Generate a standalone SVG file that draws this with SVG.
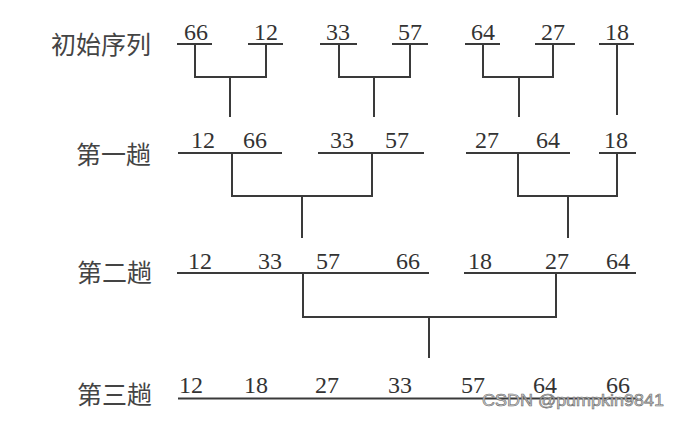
<svg xmlns="http://www.w3.org/2000/svg" width="682" height="421" viewBox="0 0 682 421">
<style>
.n{font-family:"Liberation Serif","Times New Roman",serif;font-size:24px;fill:#333;text-anchor:middle}
.lb{font-family:"Noto Sans CJK SC","Noto Sans",sans-serif;font-size:25px;fill:#444;text-anchor:end}
.u{stroke:#3a3a3a;stroke-width:2;fill:none}
.c{stroke:#3a3a3a;stroke-width:2;fill:none}
.wm{font-family:"Liberation Sans",Arial,sans-serif;font-size:17px;fill:#d0d0d0;stroke:#6a6a6a;stroke-width:0.6}
</style>
<rect width="682" height="421" fill="#fff"/>
<g id="labels">
<text id="label0" class="lb" x="151" y="54">初始序列</text>
<text id="label1" class="lb" x="151" y="164">第一趟</text>
<text id="label2" class="lb" x="152" y="282">第二趟</text>
<text id="label3" class="lb" x="152" y="404">第三趟</text>
</g>
<g id="row0">
<g id="r0n1"><line class="u" x1="177" y1="44" x2="212" y2="44"/><text class="n" x="196" y="40">66</text></g>
<g id="r0n2"><line class="u" x1="248" y1="44" x2="283" y2="44"/><text class="n" x="266" y="40">12</text></g>
<g id="r0n3"><line class="u" x1="320" y1="44" x2="357" y2="44"/><text class="n" x="338" y="40">33</text></g>
<g id="r0n4"><line class="u" x1="392" y1="44" x2="428" y2="44"/><text class="n" x="410" y="40">57</text></g>
<g id="r0n5"><line class="u" x1="465" y1="44" x2="500" y2="44"/><text class="n" x="483" y="40">64</text></g>
<g id="r0n6"><line class="u" x1="535" y1="44" x2="575" y2="44"/><text class="n" x="553" y="40">27</text></g>
<g id="r0n7"><line class="u" x1="599" y1="44" x2="634" y2="44"/><text class="n" x="617" y="40">18</text></g>
</g>
<g id="row1">
<g id="r1n1"><line class="u" x1="178" y1="153" x2="282" y2="153"/><text class="n" x="203" y="148">12</text><text class="n" x="255" y="148">66</text></g>
<g id="r1n2"><line class="u" x1="318" y1="153" x2="424" y2="153"/><text class="n" x="342" y="148">33</text><text class="n" x="397" y="148">57</text></g>
<g id="r1n3"><line class="u" x1="466" y1="153" x2="570" y2="153"/><text class="n" x="487" y="148">27</text><text class="n" x="548" y="148">64</text></g>
<g id="r1n4"><line class="u" x1="599" y1="153" x2="636" y2="153"/><text class="n" x="616" y="148">18</text></g>
</g>
<g id="row2">
<g id="r2n1"><line class="u" x1="177" y1="273" x2="429" y2="273"/><text class="n" x="200" y="269">12</text><text class="n" x="270" y="269">33</text><text class="n" x="328" y="269">57</text><text class="n" x="408" y="269">66</text></g>
<g id="r2n2"><line class="u" x1="464" y1="273" x2="636" y2="273"/><text class="n" x="480" y="269">18</text><text class="n" x="557" y="269">27</text><text class="n" x="618" y="269">64</text></g>
</g>
<g id="row3">
<g id="r3n1"><line class="u" x1="178" y1="398.5" x2="636" y2="398.5"/><text class="n" x="191" y="393">12</text><text class="n" x="256" y="393">18</text><text class="n" x="327" y="393">27</text><text class="n" x="400" y="393">33</text><text class="n" x="473" y="393">57</text><text class="n" x="545" y="393">64</text><text class="n" x="618" y="393">66</text></g>
</g>
<g id="connectors">
<path class="c" d="M195,44 V77 H266 V44 M230,77 V117"/>
<path class="c" d="M339,44 V77 H410 V44 M374,77 V117"/>
<path class="c" d="M483,44 V77 H553 V44 M519,77 V117"/>
<path class="c" d="M617,44 V115"/>
<path class="c" d="M232,153 V196 H372 V153 M302,196 V238"/>
<path class="c" d="M518,153 V196 H617 V153 M568,196 V238"/>
<path class="c" d="M303,273 V317 H556 V273 M429,317 V358"/>
</g>
<text id="watermark" class="wm" x="482" y="406" textLength="182" lengthAdjust="spacingAndGlyphs">CSDN @pumpkin9841</text>
</svg>
